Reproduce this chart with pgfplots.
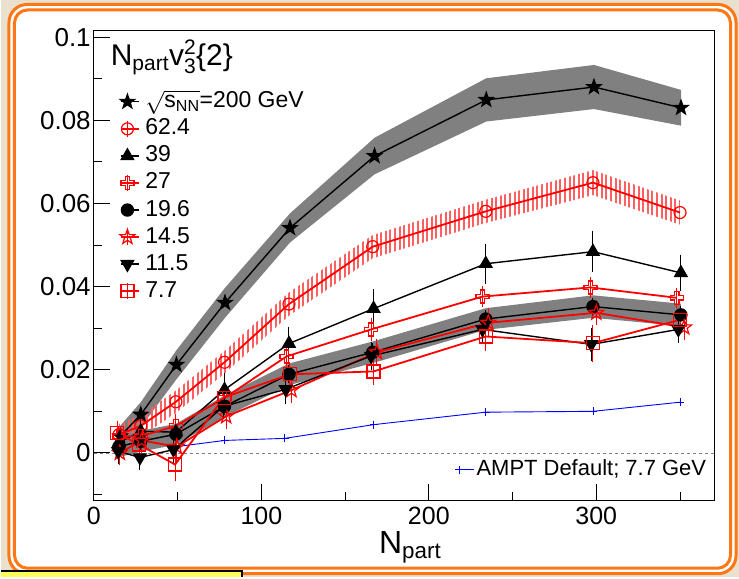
\RequirePackage{fix-cm}
\documentclass[border=0pt]{standalone}
\usepackage{fontspec}
\setmainfont{Liberation Sans}
\usepackage{pgfplots}
\usepackage{pgfplotstable}
\pgfplotsset{compat=1.18}
\usetikzlibrary{patterns.meta}

\definecolor{bgbeige}{RGB}{234,224,206}
\definecolor{frameorange}{RGB}{255,118,20}
\definecolor{hatchred}{RGB}{255,95,95}
\definecolor{bandgray}{RGB}{128,128,128}
\definecolor{boxyellow}{RGB}{255,255,90}

\pgfdeclareplotmark{fstar}{%
  \pgfpathmoveto{\pgfpointpolar{90}{1.2\pgfplotmarksize}}%
  \pgfpathlineto{\pgfpointpolar{126}{0.48\pgfplotmarksize}}%
  \pgfpathlineto{\pgfpointpolar{162}{1.2\pgfplotmarksize}}%
  \pgfpathlineto{\pgfpointpolar{198}{0.48\pgfplotmarksize}}%
  \pgfpathlineto{\pgfpointpolar{234}{1.2\pgfplotmarksize}}%
  \pgfpathlineto{\pgfpointpolar{270}{0.48\pgfplotmarksize}}%
  \pgfpathlineto{\pgfpointpolar{306}{1.2\pgfplotmarksize}}%
  \pgfpathlineto{\pgfpointpolar{342}{0.48\pgfplotmarksize}}%
  \pgfpathlineto{\pgfpointpolar{18}{1.2\pgfplotmarksize}}%
  \pgfpathlineto{\pgfpointpolar{54}{0.48\pgfplotmarksize}}%
  \pgfpathclose\pgfusepathqfillstroke}
\pgfdeclareplotmark{ostar}{%
  \pgfpathmoveto{\pgfpointpolar{90}{1.2\pgfplotmarksize}}%
  \pgfpathlineto{\pgfpointpolar{126}{0.48\pgfplotmarksize}}%
  \pgfpathlineto{\pgfpointpolar{162}{1.2\pgfplotmarksize}}%
  \pgfpathlineto{\pgfpointpolar{198}{0.48\pgfplotmarksize}}%
  \pgfpathlineto{\pgfpointpolar{234}{1.2\pgfplotmarksize}}%
  \pgfpathlineto{\pgfpointpolar{270}{0.48\pgfplotmarksize}}%
  \pgfpathlineto{\pgfpointpolar{306}{1.2\pgfplotmarksize}}%
  \pgfpathlineto{\pgfpointpolar{342}{0.48\pgfplotmarksize}}%
  \pgfpathlineto{\pgfpointpolar{18}{1.2\pgfplotmarksize}}%
  \pgfpathlineto{\pgfpointpolar{54}{0.48\pgfplotmarksize}}%
  \pgfpathclose\pgfusepathqstroke}
\pgfdeclareplotmark{ocross}{%
  \pgfpathmoveto{\pgfpoint{-0.35\pgfplotmarksize}{\pgfplotmarksize}}%
  \pgfpathlineto{\pgfpoint{0.35\pgfplotmarksize}{\pgfplotmarksize}}%
  \pgfpathlineto{\pgfpoint{0.35\pgfplotmarksize}{0.35\pgfplotmarksize}}%
  \pgfpathlineto{\pgfpoint{\pgfplotmarksize}{0.35\pgfplotmarksize}}%
  \pgfpathlineto{\pgfpoint{\pgfplotmarksize}{-0.35\pgfplotmarksize}}%
  \pgfpathlineto{\pgfpoint{0.35\pgfplotmarksize}{-0.35\pgfplotmarksize}}%
  \pgfpathlineto{\pgfpoint{0.35\pgfplotmarksize}{-\pgfplotmarksize}}%
  \pgfpathlineto{\pgfpoint{-0.35\pgfplotmarksize}{-\pgfplotmarksize}}%
  \pgfpathlineto{\pgfpoint{-0.35\pgfplotmarksize}{-0.35\pgfplotmarksize}}%
  \pgfpathlineto{\pgfpoint{-\pgfplotmarksize}{-0.35\pgfplotmarksize}}%
  \pgfpathlineto{\pgfpoint{-\pgfplotmarksize}{0.35\pgfplotmarksize}}%
  \pgfpathlineto{\pgfpoint{-0.35\pgfplotmarksize}{0.35\pgfplotmarksize}}%
  \pgfpathclose\pgfusepathqstroke}

\pgfplotsset{
  legbar/.style={legend image code/.code={%
    \draw[##1, mark=none, solid, line width=1pt] (6pt,-8pt) -- (6pt,8pt);
    \draw[##1, only marks] plot coordinates {(6pt,0pt)};
    \path (0pt,0pt) -- (18pt,0pt);}},
  legnobar/.style={legend image code/.code={%
    \draw[##1, only marks] plot coordinates {(6pt,0pt)};
    \path (0pt,0pt) -- (18pt,0pt);}},
  myerr/.style={error bars/.cd, y dir=both, y explicit,
    error bar style={line width=1pt, solid},
    error mark options={line width=1pt, mark size=4pt, solid}},
}

% 200 GeV
\pgfplotstableread{
x y
15.7 0.0040
28.0 0.0092
49.3 0.0212
78.3 0.0361
117.1 0.0541
167.6 0.0714
234.3 0.0849
298.6 0.0880
350.6 0.0830
}\dA
% 200 GeV systematic band (upper edge, then lower edge back)
\pgfplotstableread{
x y
15.7 0.0065
28.0 0.0122
49.3 0.0247
78.3 0.0397
117.1 0.0576
167.6 0.0758
234.3 0.0901
298.6 0.0933
350.6 0.0873
350.6 0.0787
298.6 0.0827
234.3 0.0797
167.6 0.0670
117.1 0.0506
78.3 0.0325
49.3 0.0177
28.0 0.0062
15.7 0.0015
}\bA
% 62.4 GeV
\pgfplotstableread{
x y
15.0 0.0044
28.0 0.0065
49.0 0.0123
78.0 0.0218
116.5 0.0358
166.5 0.0496
234.0 0.0581
298.0 0.0650
350.0 0.0578
}\dB
\pgfplotstableread{
x y
15.0 0.0070
28.0 0.0091
49.0 0.0150
78.0 0.0245
116.5 0.0386
166.5 0.0524
234.0 0.0609
298.0 0.0680
350.0 0.0607
350.0 0.0549
298.0 0.0620
234.0 0.0553
166.5 0.0468
116.5 0.0330
78.0 0.0191
49.0 0.0096
28.0 0.0039
15.0 0.0018
}\bB
% 39 GeV
\pgfplotstableread{
x y e
15.0 0.0025 0.0020
28.0 0.0052 0.0022
49.0 0.0050 0.0030
78.0 0.0152 0.0030
116.5 0.0263 0.0030
167.0 0.0347 0.0038
234.0 0.0455 0.0039
298.0 0.0484 0.0039
350.5 0.0433 0.0034
}\dC
% 27 GeV
\pgfplotstableread{
x y e
15.0 0.0040 0.0015
28.0 0.0040 0.0015
49.0 0.0065 0.0020
78.0 0.0132 0.0020
115.0 0.0232 0.0018
165.5 0.0297 0.0018
232.0 0.0376 0.0015
296.5 0.0398 0.0015
348.0 0.0373 0.0015
}\dD
% 19.6 GeV
\pgfplotstableread{
x y e
15.0 0.0015 0.0012
28.0 0.0028 0.0012
49.0 0.0045 0.0012
78.0 0.0112 0.0012
116.5 0.0189 0.0012
166.5 0.0242 0.0012
234.0 0.0322 0.0012
298.0 0.0352 0.0012
350.5 0.0332 0.0012
}\dE
\pgfplotstableread{
x y
15.0 0.0040
28.0 0.0053
49.0 0.0070
78.0 0.0138
116.5 0.0215
166.5 0.0268
234.0 0.0348
298.0 0.0379
350.5 0.0359
350.5 0.0305
298.0 0.0325
234.0 0.0296
166.5 0.0216
116.5 0.0163
78.0 0.0086
49.0 0.0020
28.0 0.0003
15.0 -0.0010
}\bE
% 14.5 GeV
\pgfplotstableread{
x y e
15.5 0.0000 0.0020
28.5 0.0030 0.0020
49.5 0.0015 0.0030
79.0 0.0088 0.0020
118.0 0.0151 0.0022
169.0 0.0242 0.0022
235.5 0.0313 0.0025
300.0 0.0337 0.0020
352.5 0.0302 0.0020
}\dF
% 11.5 GeV
\pgfplotstableread{
x y e
14.5 0.0004 0.0020
27.5 -0.0011 0.0020
47.5 0.0008 0.0022
77.5 0.0112 0.0022
114.5 0.0153 0.0025
165.5 0.0233 0.0025
232.0 0.0297 0.0022
297.0 0.0261 0.0030
349.0 0.0297 0.0022
}\dG
% 7.7 GeV
\pgfplotstableread{
x y e
14.0 0.0048 0.0020
27.0 0.0020 0.0020
48.5 -0.0028 0.0030
77.5 0.0133 0.0020
117.0 0.0189 0.0020
167.0 0.0196 0.0022
234.0 0.0280 0.0025
298.0 0.0264 0.0035
350.0 0.0320 0.0020
}\dH
% AMPT
\pgfplotstableread{
x y
49 0.0015
78 0.0030
114 0.0035
167 0.0068
234 0.0098
298 0.0100
350 0.0122
}\dI

\begin{document}
\begin{tikzpicture}
\fill[bgbeige] (0pt,0pt) rectangle (739pt,578pt);
\draw[frameorange, line width=3pt, rounded corners=18pt, fill=white] (8pt,3.5pt) rectangle (736pt,573.5pt);
\draw[frameorange, line width=3pt, rounded corners=13pt] (13.5pt,9pt) rectangle (730.5pt,568pt);
\fill[boxyellow] (0pt,0pt) rectangle (242pt,6.5pt);
\draw[black, line width=2pt] (0pt,6pt) -- (241pt,6pt) -- (241pt,0pt);

% AMPT layer (underneath)
\begin{axis}[
  at={(93pt,77pt)}, anchor=south west,
  scale only axis, width=621.5pt, height=470.5pt,
  xmin=0, xmax=370.6, ymin=-0.0114, ymax=0.1016,
  hide axis,
  legend style={at={(0.581,0.0893)}, anchor=north west, draw=none, fill=none,
    inner sep=0pt, font=\fontsize{22}{22}\selectfont, column sep=2pt,
    nodes={inner sep=0pt, text height=17pt, text depth=5pt}, cells={anchor=west}},
  legend cell align=left,
  legend image code/.code={\draw[#1, only marks] plot coordinates {(0pt,0pt)}; \path (-4pt,0pt) -- (15pt,0pt);},
]
\addplot[blue, line width=0.9pt, mark=+, mark size=4pt] table[x=x,y=y]{\dI};
\addlegendentry{AMPT Default; 7.7 GeV}
\end{axis}

\begin{axis}[
  at={(93pt,77pt)}, anchor=south west,
  scale only axis, width=621.5pt, height=470.5pt,
  xmin=0, xmax=370.6, ymin=-0.0114, ymax=0.1016,
  axis line style={line width=1.2pt},
  tick align=inside, xtick pos=left, ytick pos=left,
  major tick length=16pt, minor tick length=8pt,
  every tick/.style={black, line width=1pt},
  xtick={0,100,200,300}, xticklabels={0,100,200,300},
  minor xtick={50,150,250,350},
  ytick={0,0.02,0.04,0.06,0.08,0.1}, yticklabels={0,0.02,0.04,0.06,0.08,0.1},
  minor ytick={-0.01,0.01,0.03,0.05,0.07,0.09},
  xticklabel style={font=\fontsize{25}{25}\selectfont, inner sep=7pt},
  yticklabel style={font=\fontsize{26}{26}\selectfont, inner sep=3pt},
  xlabel={$\mathrm{N_{part}}$},
  xlabel style={font=\fontsize{32}{32}\selectfont, xshift=6pt, inner sep=0pt, yshift=1pt},
  legend style={at={(0.0418,0.872)}, anchor=north west, draw=none, fill=none,
    inner sep=0pt, font=\fontsize{23}{23}\selectfont, row sep=5.1pt, column sep=5pt,
    nodes={inner sep=0pt, text height=17pt, text depth=5pt}, cells={anchor=west}},
  legend cell align=left,
  clip=false,
]
% systematic bands
\addplot[fill=bandgray, draw=none, forget plot] table[x=x,y=y]{\bA};
\addplot[draw=none, pattern={Lines[angle=90,distance=4.6pt,line width=2pt]}, pattern color=hatchred, forget plot] table[x=x,y=y]{\bB};
\addplot[fill=bandgray, draw=none, forget plot] table[x=x,y=y]{\bE};
% zero line
\addplot[gray, dashed, line width=0.6pt, forget plot] coordinates {(0,0) (370.6,0)};
% series
\addplot[black, line width=1.4pt, mark=fstar, mark size=6pt, legnobar] table[x=x,y=y]{\dA};
\addlegendentry{$\sqrt{\mathrm{s_{NN}}}$=200 GeV}
\addplot[red, line width=1.8pt, mark=o, mark size=6pt, mark options={line width=1.2pt}, legbar] table[x=x,y=y]{\dB};
\addlegendentry{62.4}
\addplot[black, line width=1.4pt, mark=triangle*, mark size=7pt, legnobar, myerr] table[x=x,y=y,y error=e]{\dC};
\addlegendentry{39}
\addplot[red, line width=1.8pt, mark=ocross, mark size=6.5pt, mark options={line width=1.2pt}, legbar, myerr] table[x=x,y=y,y error=e]{\dD};
\addlegendentry{27}
\addplot[black, line width=1.4pt, mark=*, mark size=6pt, legnobar, myerr] table[x=x,y=y,y error=e]{\dE};
\addlegendentry{19.6}
\addplot[red, line width=1.8pt, mark=ostar, mark size=6.5pt, mark options={line width=1.2pt}, legbar, myerr] table[x=x,y=y,y error=e]{\dF};
\addlegendentry{14.5}
\addplot[black, line width=1.4pt, mark=triangle*, mark size=7pt, mark options={rotate=180}, legnobar, myerr] table[x=x,y=y,y error=e]{\dG};
\addlegendentry{11.5}
\addplot[red, line width=1.8pt, mark=square, mark size=6.5pt, mark options={line width=1.2pt}, legbar, myerr] table[x=x,y=y,y error=e]{\dH};
\addlegendentry{7.7}
\node[anchor=base west, font=\fontsize{30}{30}\selectfont, inner sep=0pt] at (rel axis cs:0.027,0.925) {$\mathrm{N_{part}v_{3}^{2}}$\{2\}};
\end{axis}
\end{tikzpicture}
\end{document}
